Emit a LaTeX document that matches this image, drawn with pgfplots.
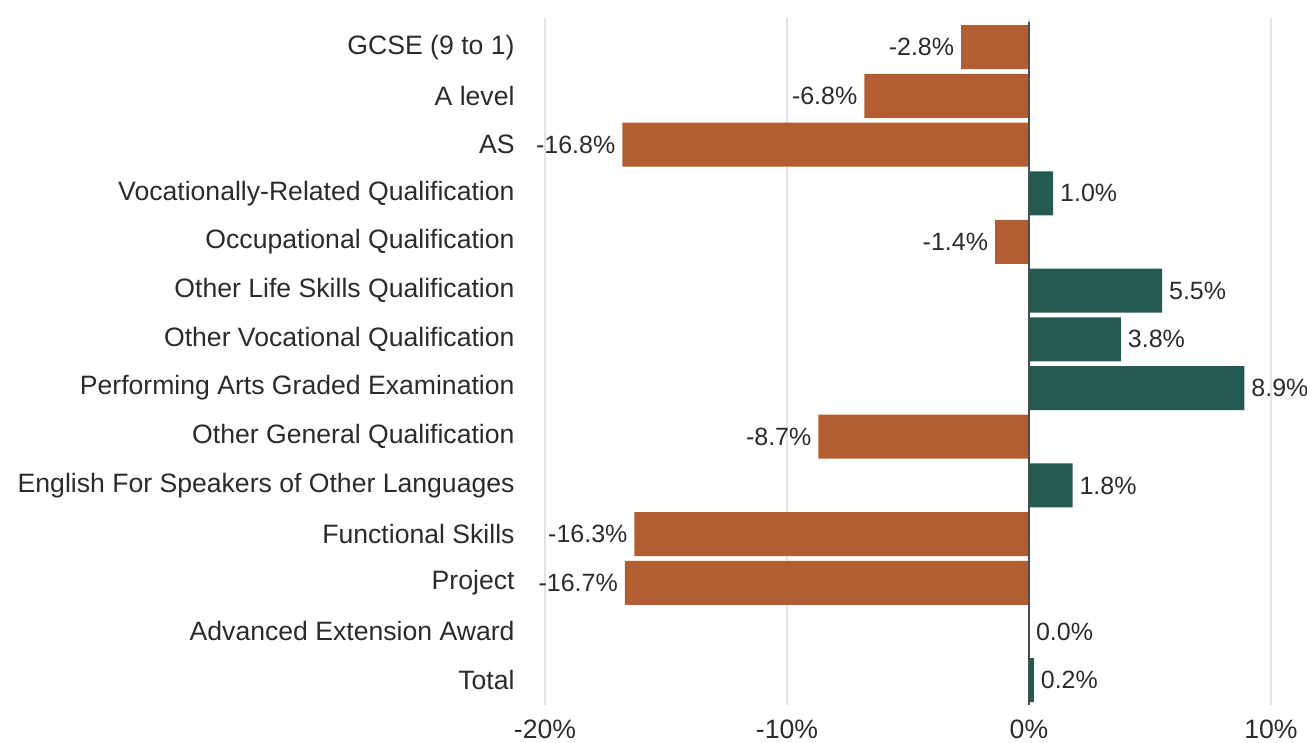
\documentclass[border=0pt]{standalone}
\usepackage{pgfplots}
\pgfplotsset{compat=1.18}
\usepackage{fontspec}
\setmainfont{Liberation Sans}
\definecolor{orng}{HTML}{B35D33}
\definecolor{teal2}{HTML}{245A52}
\definecolor{txt}{HTML}{2B2B2B}
\definecolor{grd}{HTML}{E3E3E3}
\begin{document}
\begin{tikzpicture}
\useasboundingbox (-262.8pt,-19pt) rectangle (390.7pt,352.5pt);
\begin{axis}[
  at={(0,0)}, anchor=south west,
  scale only axis, width=387.2pt, height=343.5pt,
  xmin=-20.8, xmax=11.2, ymin=-0.6, ymax=13.51,
  y dir=reverse,
  axis line style={draw=none},
  xbar, bar width=22pt, bar shift=0pt,
  xtick={-20,-10,0,10},
  xticklabels={-20\%,-10\%,0\%,10\%},
  ytick={0,...,13},
  yticklabels={GCSE (9 to 1),A level,AS,Vocationally-Related Qualification,Occupational Qualification,Other Life Skills Qualification,Other Vocational Qualification,Performing Arts Graded Examination,Other General Qualification,English For Speakers of Other Languages,Functional Skills,Project,Advanced Extension Award,Total},
  major tick length=0pt,
  xmajorgrids, grid style={grd, line width=1.2pt},
  tick label style={font=\fontsize{13.3}{15}\selectfont, text=txt},
  yticklabel style={xshift=-2pt},
  xticklabel style={yshift=-4pt},
  /pgf/number format/assume math mode=true,
  nodes near coords={\pgfmathprintnumber[fixed,fixed zerofill,precision=1,assume math mode=true]{\pgfplotspointmeta}\%},
  every node near coord/.append style={font=\fontsize{12.5}{15}\selectfont, text=txt},
  point meta=x,
]
\addplot[fill=orng, draw=none, nodes near coords style={anchor=east}] coordinates {
  (-2.8,0) (-6.8,1) (-16.8,2) (-1.4,4) (-8.7,8) (-16.3,10) (-16.7,11)
};
\addplot[fill=teal2, draw=none, nodes near coords style={anchor=west}] coordinates {
  (1.0,3) (5.5,5) (3.8,6) (8.9,7) (1.8,9) (0.0,12) (0.2,13)
};
\draw[line width=1pt, color=black!70] (axis cs:0,-0.52) -- (axis cs:0,13.51);
\end{axis}
\end{tikzpicture}
\end{document}
